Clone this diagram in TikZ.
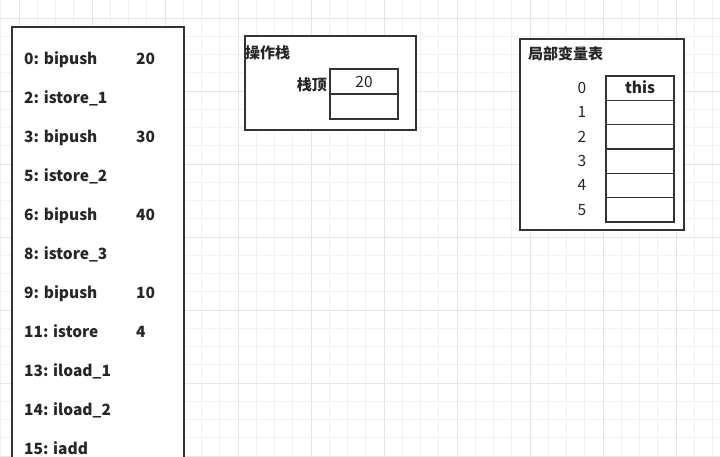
\documentclass[tikz,border=0pt]{standalone}
\usepackage{fontspec}
\setmainfont{Noto Sans CJK SC}
\begin{document}
\begin{tikzpicture}[x=1pt,y=-1pt,
  frame/.style={draw=black!80,line width=1.8pt},
  cell/.style={draw=black!80,line width=1.6pt},
  ins/.style={anchor=base west,inner sep=0pt,font=\fontsize{15.5}{18}\selectfont\bfseries,text=black!85},
  idx/.style={anchor=base,inner sep=0pt,font=\fontsize{15.5}{18}\selectfont,text=black!85},
  ttl/.style={anchor=base west,inner sep=0pt,font=\fontsize{15}{18}\selectfont\bfseries,text=black!85}]
\useasboundingbox (0,0) rectangle (720,456);
\fill[white] (0,0) rectangle (720,456);
% grid
\foreach \i in {0,...,40} {
  \draw[black!5,line width=0.8pt] ({0.75+18.25*\i},0) -- ({0.75+18.25*\i},456);
  \draw[black!5,line width=0.8pt] (0,{-0.25+18.25*\i}) -- (720,{-0.25+18.25*\i});
}
\foreach \i in {0,...,10} {
  \draw[black!10,line width=0.8pt] ({19+73*\i},0) -- ({19+73*\i},456);
  \draw[black!10,line width=0.8pt] (0,{18+73*\i}) -- (720,{18+73*\i});
}
% left code box
\begin{scope}
\clip (0,0) rectangle (720,456);
\draw[frame,fill=white] (12,27) rectangle (184,470);
\end{scope}
\node[ins] (c0) at (24,64.3) {0: bipush};
\node[ins] (v0) at (136,64.3) {20};
\node[ins] (c1) at (24,103.3) {2: istore\_1};
\node[ins] (c2) at (24,142.3) {3: bipush};
\node[ins] (v2) at (136,142.3) {30};
\node[ins] (c3) at (24,181.3) {5: istore\_2};
\node[ins] (c4) at (24,220.3) {6: bipush};
\node[ins] (v4) at (136,220.3) {40};
\node[ins] (c5) at (24,259.3) {8: istore\_3};
\node[ins] (c6) at (24,298.3) {9: bipush};
\node[ins] (v6) at (136,298.3) {10};
\node[ins] (c7) at (24,337.3) {11: istore};
\node[ins] (v7) at (136,337.3) {4};
\node[ins] (c8) at (24,376.3) {13: iload\_1};
\node[ins] (c9) at (24,415.3) {14: iload\_2};
\node[ins] (c10) at (24,454.3) {15: iadd};
% operand stack
\draw[frame,fill=white] (245,36) rectangle (416,130);
\node[ttl] (opt) at (245,58) {操作栈};
\draw[cell] (330,69) rectangle (398,94);
\draw[cell] (330,94) rectangle (398,119);
\node[idx] (s0) at (364,87) {20};
\node[anchor=base east,inner sep=0pt,font=\fontsize{15}{18}\selectfont\bfseries,text=black!85] (top) at (327,90.5) {栈顶};
% local variable table
\draw[frame,fill=white] (520,39) rectangle (684,230);
\node[ttl] (lvt) at (528,59) {局部变量表};
\foreach \k in {0,...,5} {
  \draw[cell] (606,{76+24.33*\k}) rectangle (674,{76+24.33*(\k+1)});
  \node[idx] (i\k) at (582,{93.5+24.33*\k}) {\k};
}
\node[idx,font=\fontsize{15.5}{18}\selectfont\bfseries] (this) at (640,93.5) {this};
\end{tikzpicture}
\end{document}
